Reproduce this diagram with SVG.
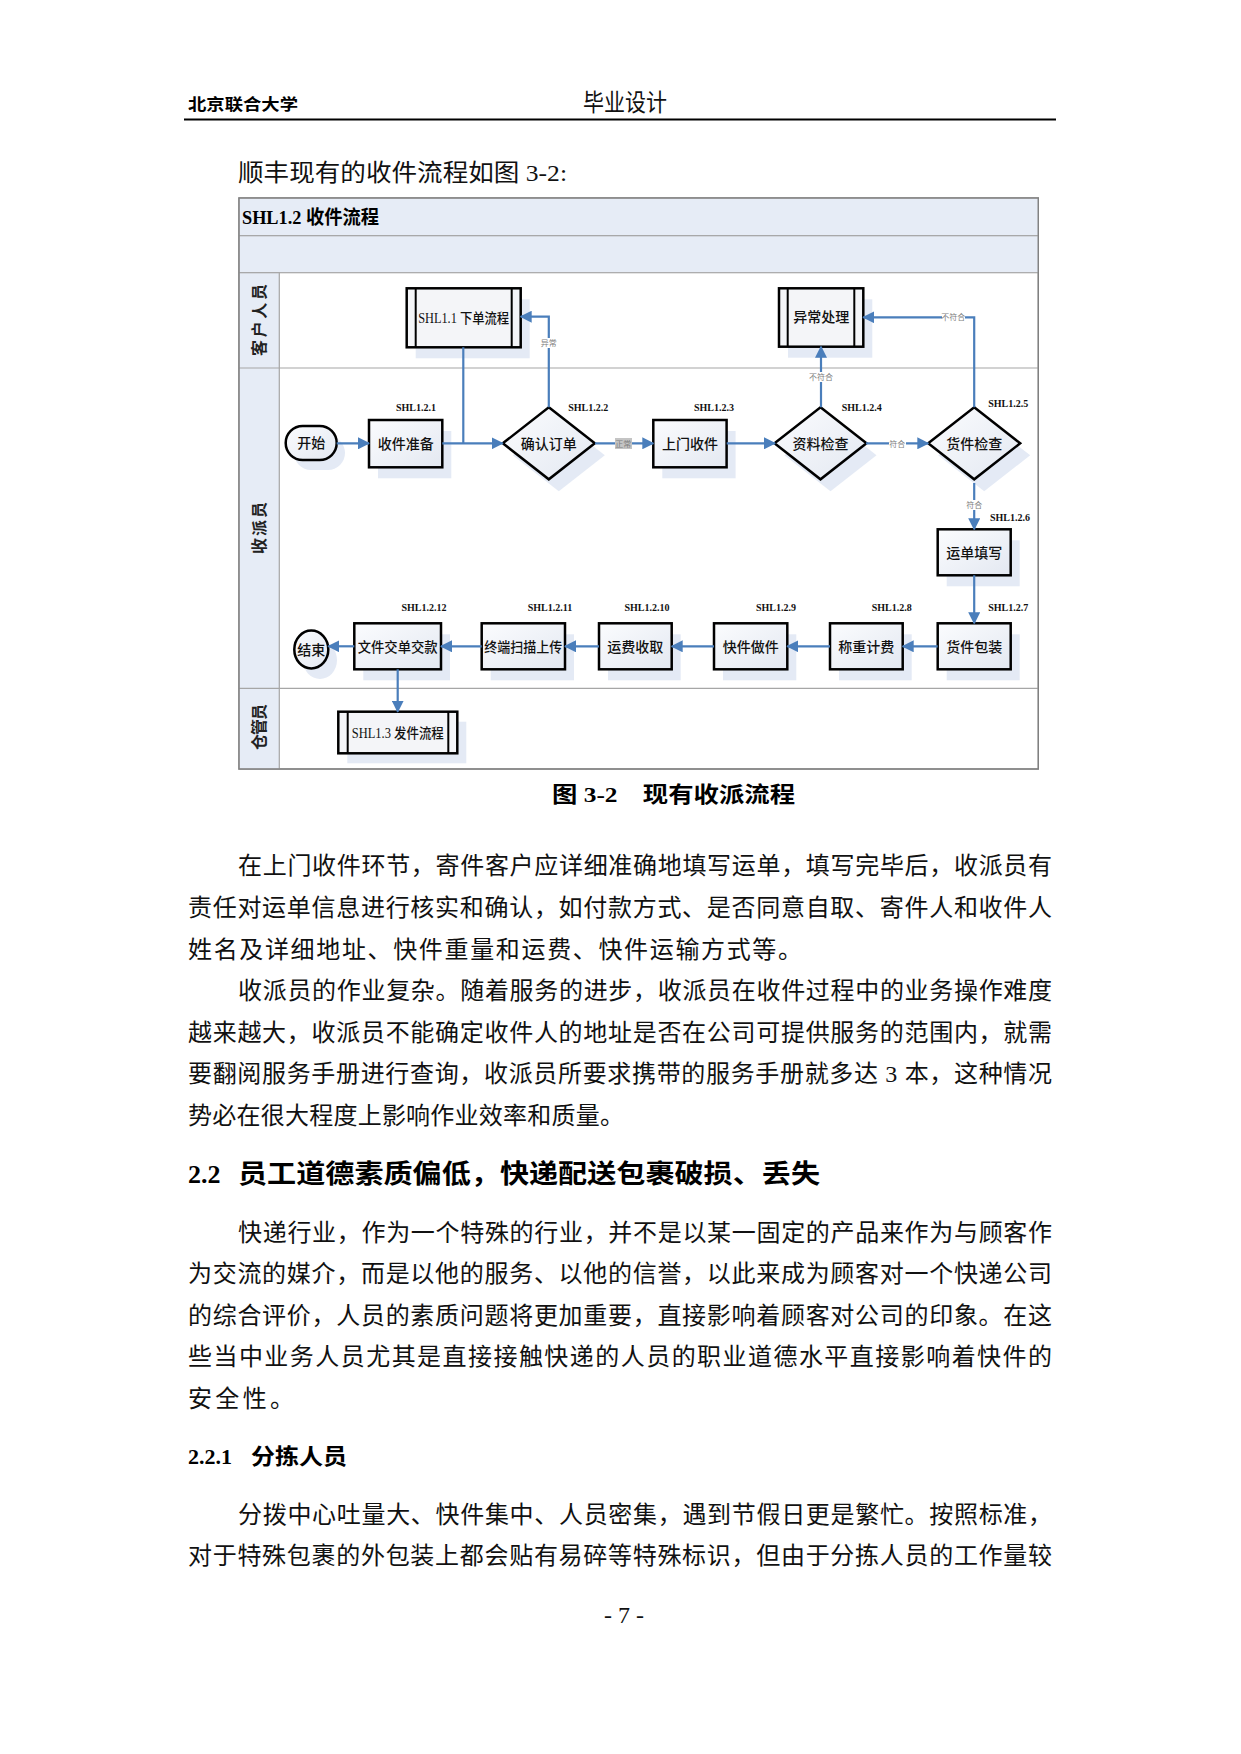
<svg xmlns="http://www.w3.org/2000/svg" width="1241" height="1754" viewBox="0 0 1241 1754">
<defs>
<linearGradient id="g" x1="0" y1="0" x2="1" y2="1">
<stop offset="0" stop-color="#fbfcfe"/>
<stop offset="1" stop-color="#e3e8f1"/>
</linearGradient>
<marker id="ah" viewBox="0 0 12 12" refX="11" refY="6" markerWidth="12" markerHeight="12" orient="auto" markerUnits="userSpaceOnUse">
<path d="M0,0 L12,6 L0,12 z" fill="#4a7ebb" stroke="none"/>
</marker>
</defs>
<style>
.body{font-family:"Liberation Serif","Noto Sans CJK SC",serif;font-size:24px;fill:#111}
.hd{font-family:"Liberation Serif","Noto Sans CJK SC",serif;font-weight:bold;fill:#000}
.band{fill:#e6ecf6;stroke:#a6a6a6;stroke-width:1.2}
.sep{stroke:#a6a6a6;stroke-width:1.2}
.sh{fill:#e4eaf5}
.box{fill:url(#g);stroke:#000;stroke-width:2.5}
.sub{fill:#f4f5f8;stroke:#000;stroke-width:2.5}
.bar{stroke:#000;stroke-width:2}
.t{font-family:"Liberation Serif","Noto Sans CJK SC",serif;font-size:14px;font-weight:500;text-anchor:middle;fill:#111}
.lbl{font-family:"Liberation Serif",serif;font-weight:bold;font-size:10px;text-anchor:middle;fill:#111}
.lane{font-family:"Noto Sans CJK SC",sans-serif;font-weight:bold;font-size:16px;text-anchor:middle;fill:#222}
.conn{fill:none;stroke:#4a7ebb;stroke-width:2.2}
.cl{font-family:"Noto Sans CJK SC",sans-serif;font-size:8px;text-anchor:middle;fill:#808080}
</style>

<!-- page header -->
<g id="page-header">
<text class="hd" x="188" y="110" font-size="16" textLength="110" lengthAdjust="spacingAndGlyphs">北京联合大学</text>
<text class="body" x="583" y="111" font-size="20" textLength="84" lengthAdjust="spacingAndGlyphs">毕业设计</text>
<line x1="184" y1="119.5" x2="1056" y2="119.5" stroke="#000" stroke-width="2"/>
</g>

<text class="body" x="238" y="181" font-size="22" textLength="329" lengthAdjust="spacingAndGlyphs">顺丰现有的收件流程如图 3-2:</text>

<!-- swimlane frame -->
<g id="frame">
<rect x="239" y="198" width="799.3" height="571" fill="#fff" stroke="#808080" stroke-width="1.3"/>
<rect class="band" x="239" y="198" width="799.3" height="37.7"/>
<rect class="band" x="239" y="235.7" width="799.3" height="37"/>
<rect class="band" x="239" y="272.7" width="40.3" height="496.3"/>
<line class="sep" x1="239" y1="368" x2="1038.3" y2="368"/>
<line class="sep" x1="239" y1="688.3" x2="1038.3" y2="688.3"/>
<rect x="239" y="198" width="799.3" height="571" fill="none" stroke="#808080" stroke-width="1.3"/>
<text class="hd" x="242" y="223.5" font-size="19" textLength="137" lengthAdjust="spacingAndGlyphs">SHL1.2 收件流程</text>
<text class="lane" transform="translate(265,320) rotate(-90)" textLength="72" lengthAdjust="spacing">客户人员</text>
<text class="lane" transform="translate(265,528) rotate(-90)" textLength="52" lengthAdjust="spacing">收派员</text>
<text class="lane" transform="translate(265,727) rotate(-90)" textLength="46" lengthAdjust="spacing">仓管员</text>
</g>

<!-- nodes -->
<g id="n-order">
<rect class="sh" x="415.7" y="299.3" width="114" height="59"/>
<rect class="sub" x="406.7" y="288.3" width="114" height="59"/>
<line class="bar" x1="415.7" y1="288.3" x2="415.7" y2="347.3"/>
<line class="bar" x1="511.7" y1="288.3" x2="511.7" y2="347.3"/>
<text class="t" x="463.7" y="322.5" textLength="91" lengthAdjust="spacingAndGlyphs">SHL1.1 下单流程</text>
</g>

<g id="n-exception">
<rect class="sh" x="788" y="299.3" width="84.3" height="58.4"/>
<rect class="sub" x="779" y="288.3" width="84.3" height="58.4"/>
<line class="bar" x1="787.7" y1="288.3" x2="787.7" y2="346.7"/>
<line class="bar" x1="854.3" y1="288.3" x2="854.3" y2="346.7"/>
<text class="t" x="821.2" y="322">异常处理</text>
</g>

<g id="n-start">
<rect class="sh" x="294" y="436" width="51" height="34" rx="17"/>
<rect class="box" x="285.7" y="426" width="51" height="34" rx="17"/>
<text class="t" x="311.2" y="448">开始</text>
</g>

<g id="n-1">
<rect class="sh" x="378" y="431" width="73.3" height="47.3"/>
<rect class="box" x="369" y="420" width="73.3" height="47.3"/>
<text class="t" x="405.7" y="448.5">收件准备</text>
<text class="lbl" x="416" y="410.5">SHL1.2.1</text>
</g>

<g id="n-2">
<path class="sh" d="M558.8,419.3 L604.8,455.3 L558.8,491.3 L512.8,455.3 z"/>
<path class="box" d="M548.8,407.3 L594.8,443.3 L548.8,479.3 L502.8,443.3 z"/>
<text class="t" x="548.8" y="448.5">确认订单</text>
<text class="lbl" x="588.3" y="410.5">SHL1.2.2</text>
</g>

<g id="n-3">
<rect class="sh" x="662.3" y="431" width="73.3" height="47.3"/>
<rect class="box" x="653.3" y="420" width="73.3" height="47.3"/>
<text class="t" x="690" y="448.5">上门收件</text>
<text class="lbl" x="714" y="410.5">SHL1.2.3</text>
</g>

<g id="n-4">
<path class="sh" d="M830.5,419.3 L876.5,455.3 L830.5,491.3 L784.5,455.3 z"/>
<path class="box" d="M820.5,407.3 L866.5,443.3 L820.5,479.3 L774.5,443.3 z"/>
<text class="t" x="820.5" y="448.5">资料检查</text>
<text class="lbl" x="861.7" y="410.5">SHL1.2.4</text>
</g>

<g id="n-5">
<path class="sh" d="M984.2,419.3 L1030.2,455.3 L984.2,491.3 L938.2,455.3 z"/>
<path class="box" d="M974.2,407.3 L1020.2,443.3 L974.2,479.3 L928.2,443.3 z"/>
<text class="t" x="974.2" y="448.5">货件检查</text>
<text class="lbl" x="1008.3" y="406.5">SHL1.2.5</text>
</g>

<g id="n-6">
<rect class="sh" x="946.7" y="540.3" width="73" height="46"/>
<rect class="box" x="937.7" y="529.3" width="73" height="46"/>
<text class="t" x="974.2" y="557.5">运单填写</text>
<text class="lbl" x="1010" y="520.5">SHL1.2.6</text>
</g>

<g id="n-7">
<rect class="sh" x="946.7" y="634.3" width="73" height="46"/>
<rect class="box" x="937.7" y="623.3" width="73" height="46"/>
<text class="t" x="974.2" y="651.5">货件包装</text>
<text class="lbl" x="1008.3" y="610.5">SHL1.2.7</text>
</g>

<g id="n-8">
<rect class="sh" x="839" y="634.3" width="72.7" height="46"/>
<rect class="box" x="830" y="623.3" width="72.7" height="46"/>
<text class="t" x="866.3" y="651.5">称重计费</text>
<text class="lbl" x="891.7" y="610.5">SHL1.2.8</text>
</g>

<g id="n-9">
<rect class="sh" x="723" y="634.3" width="73.3" height="46"/>
<rect class="box" x="714" y="623.3" width="73.3" height="46"/>
<text class="t" x="750.7" y="651.5">快件做件</text>
<text class="lbl" x="776" y="610.5">SHL1.2.9</text>
</g>

<g id="n-10">
<rect class="sh" x="608" y="634.3" width="72.7" height="46"/>
<rect class="box" x="599" y="623.3" width="72.7" height="46"/>
<text class="t" x="635.3" y="651.5">运费收取</text>
<text class="lbl" x="647" y="610.5">SHL1.2.10</text>
</g>

<g id="n-11">
<rect class="sh" x="490.7" y="634.3" width="83.3" height="46"/>
<rect class="box" x="481.7" y="623.3" width="83.3" height="46"/>
<text class="t" x="523.3" y="651.5" textLength="78" lengthAdjust="spacingAndGlyphs">终端扫描上传</text>
<text class="lbl" x="550" y="610.5">SHL1.2.11</text>
</g>

<g id="n-12">
<rect class="sh" x="363.3" y="634.3" width="86.7" height="46"/>
<rect class="box" x="354.3" y="623.3" width="86.7" height="46"/>
<text class="t" x="397.7" y="651.5" textLength="80" lengthAdjust="spacingAndGlyphs">文件交单交款</text>
<text class="lbl" x="424" y="610.5">SHL1.2.12</text>
</g>

<g id="n-end">
<ellipse class="sh" cx="320" cy="660" rx="17" ry="19"/>
<ellipse class="box" cx="311.3" cy="649.5" rx="17" ry="19"/>
<text class="t" x="311.3" y="654.5">结束</text>
</g>

<g id="n-dispatch">
<rect class="sh" x="347.3" y="721.7" width="119" height="41.6"/>
<rect class="sub" x="338.3" y="711.7" width="119" height="41.6"/>
<line class="bar" x1="347.7" y1="711.7" x2="347.7" y2="753.3"/>
<line class="bar" x1="448.3" y1="711.7" x2="448.3" y2="753.3"/>
<text class="t" x="397.8" y="737.5" textLength="92" lengthAdjust="spacingAndGlyphs">SHL1.3 发件流程</text>
</g>

<!-- connectors (drawn over node shadows) -->
<g id="connectors">
<path class="conn" d="M336.7,443.3 H369" marker-end="url(#ah)"/>
<path class="conn" d="M442.3,443.3 H502.7" marker-end="url(#ah)"/>
<path class="conn" d="M463.3,347.3 V443.3"/>
<path class="conn" d="M548.8,407.3 V316.7 H520.7" marker-end="url(#ah)"/>
<path class="conn" d="M595,443.3 H653.3" marker-end="url(#ah)"/>
<path class="conn" d="M726.7,443.3 H775" marker-end="url(#ah)"/>
<path class="conn" d="M821,407.3 V346.7" marker-end="url(#ah)"/>
<path class="conn" d="M866,443.3 H928.3" marker-end="url(#ah)"/>
<path class="conn" d="M974.2,407.3 V317.3 H863.3" marker-end="url(#ah)"/>
<path class="conn" d="M974.2,483 V529.3" marker-end="url(#ah)"/>
<path class="conn" d="M974.2,575.3 V623.3" marker-end="url(#ah)"/>
<path class="conn" d="M937.7,646.3 H902.7" marker-end="url(#ah)"/>
<path class="conn" d="M830,646.3 H787.3" marker-end="url(#ah)"/>
<path class="conn" d="M714,646.3 H671.7" marker-end="url(#ah)"/>
<path class="conn" d="M599,646.3 H565" marker-end="url(#ah)"/>
<path class="conn" d="M481.7,646.3 H441" marker-end="url(#ah)"/>
<path class="conn" d="M354.3,646.3 H328.3" marker-end="url(#ah)"/>
<path class="conn" d="M397.7,669.3 V711.7" marker-end="url(#ah)"/>
<!-- connector labels -->
<rect x="541" y="338" width="15.6" height="10" fill="#fff"/>
<text class="cl" x="548.8" y="346">异常</text>
<rect x="615" y="438" width="17" height="11" fill="#c4c4c4"/>
<text class="cl" x="623.3" y="446.5" fill="#666">正常</text>
<rect x="810" y="372" width="22" height="10" fill="#fff"/>
<text class="cl" x="821" y="380">不符合</text>
<rect x="889" y="438" width="17" height="10" fill="#fff"/>
<text class="cl" x="897.3" y="446.5">符合</text>
<rect x="942" y="312" width="23" height="10" fill="#fff"/>
<text class="cl" x="953.3" y="320">不符合</text>
<rect x="966" y="500" width="17" height="10" fill="#fff"/>
<text class="cl" x="974.2" y="508">符合</text>
</g>

<text class="hd" x="552" y="802" font-size="22" textLength="243" lengthAdjust="spacingAndGlyphs">图 3-2　现有收派流程</text>

<!-- body text -->
<g id="body-text">
<text class="body" x="238" y="874" textLength="814" lengthAdjust="spacing">在上门收件环节，寄件客户应详细准确地填写运单，填写完毕后，收派员有</text>
<text class="body" x="188" y="916" textLength="864" lengthAdjust="spacing">责任对运单信息进行核实和确认，如付款方式、是否同意自取、寄件人和收件人</text>
<text class="body" x="188" y="958" textLength="614" lengthAdjust="spacing">姓名及详细地址、快件重量和运费、快件运输方式等。</text>
<text class="body" x="238" y="999" textLength="814" lengthAdjust="spacing">收派员的作业复杂。随着服务的进步，收派员在收件过程中的业务操作难度</text>
<text class="body" x="188" y="1041" textLength="864" lengthAdjust="spacing">越来越大，收派员不能确定收件人的地址是否在公司可提供服务的范围内，就需</text>
<text class="body" x="188" y="1082" textLength="864" lengthAdjust="spacing">要翻阅服务手册进行查询，收派员所要求携带的服务手册就多达 3 本，这种情况</text>
<text class="body" x="188" y="1124" textLength="436" lengthAdjust="spacing">势必在很大程度上影响作业效率和质量。</text>
<text class="hd" x="188" y="1183" font-size="26">2.2</text>
<text class="hd" x="238" y="1183" font-size="26" textLength="582" lengthAdjust="spacingAndGlyphs">员工道德素质偏低，快递配送包裹破损、丢失</text>
<text class="body" x="238" y="1241" textLength="814" lengthAdjust="spacing">快递行业，作为一个特殊的行业，并不是以某一固定的产品来作为与顾客作</text>
<text class="body" x="188" y="1282" textLength="864" lengthAdjust="spacing">为交流的媒介，而是以他的服务、以他的信誉，以此来成为顾客对一个快递公司</text>
<text class="body" x="188" y="1324" textLength="864" lengthAdjust="spacing">的综合评价，人员的素质问题将更加重要，直接影响着顾客对公司的印象。在这</text>
<text class="body" x="188" y="1365" textLength="864" lengthAdjust="spacing">些当中业务人员尤其是直接接触快递的人员的职业道德水平直接影响着快件的</text>
<text class="body" x="188" y="1407" textLength="106" lengthAdjust="spacing">安全性。</text>
<text class="hd" x="188" y="1464" font-size="22">2.2.1</text>
<text class="hd" x="251" y="1464" font-size="22" textLength="96" lengthAdjust="spacingAndGlyphs">分拣人员</text>
<text class="body" x="238" y="1523" textLength="814" lengthAdjust="spacing">分拨中心吐量大、快件集中、人员密集，遇到节假日更是繁忙。按照标准，</text>
<text class="body" x="188" y="1564" textLength="864" lengthAdjust="spacing">对于特殊包裹的外包装上都会贴有易碎等特殊标识，但由于分拣人员的工作量较</text>
<text class="body" x="624" y="1623" font-size="16" text-anchor="middle">- 7 -</text>
</g>
</svg>
